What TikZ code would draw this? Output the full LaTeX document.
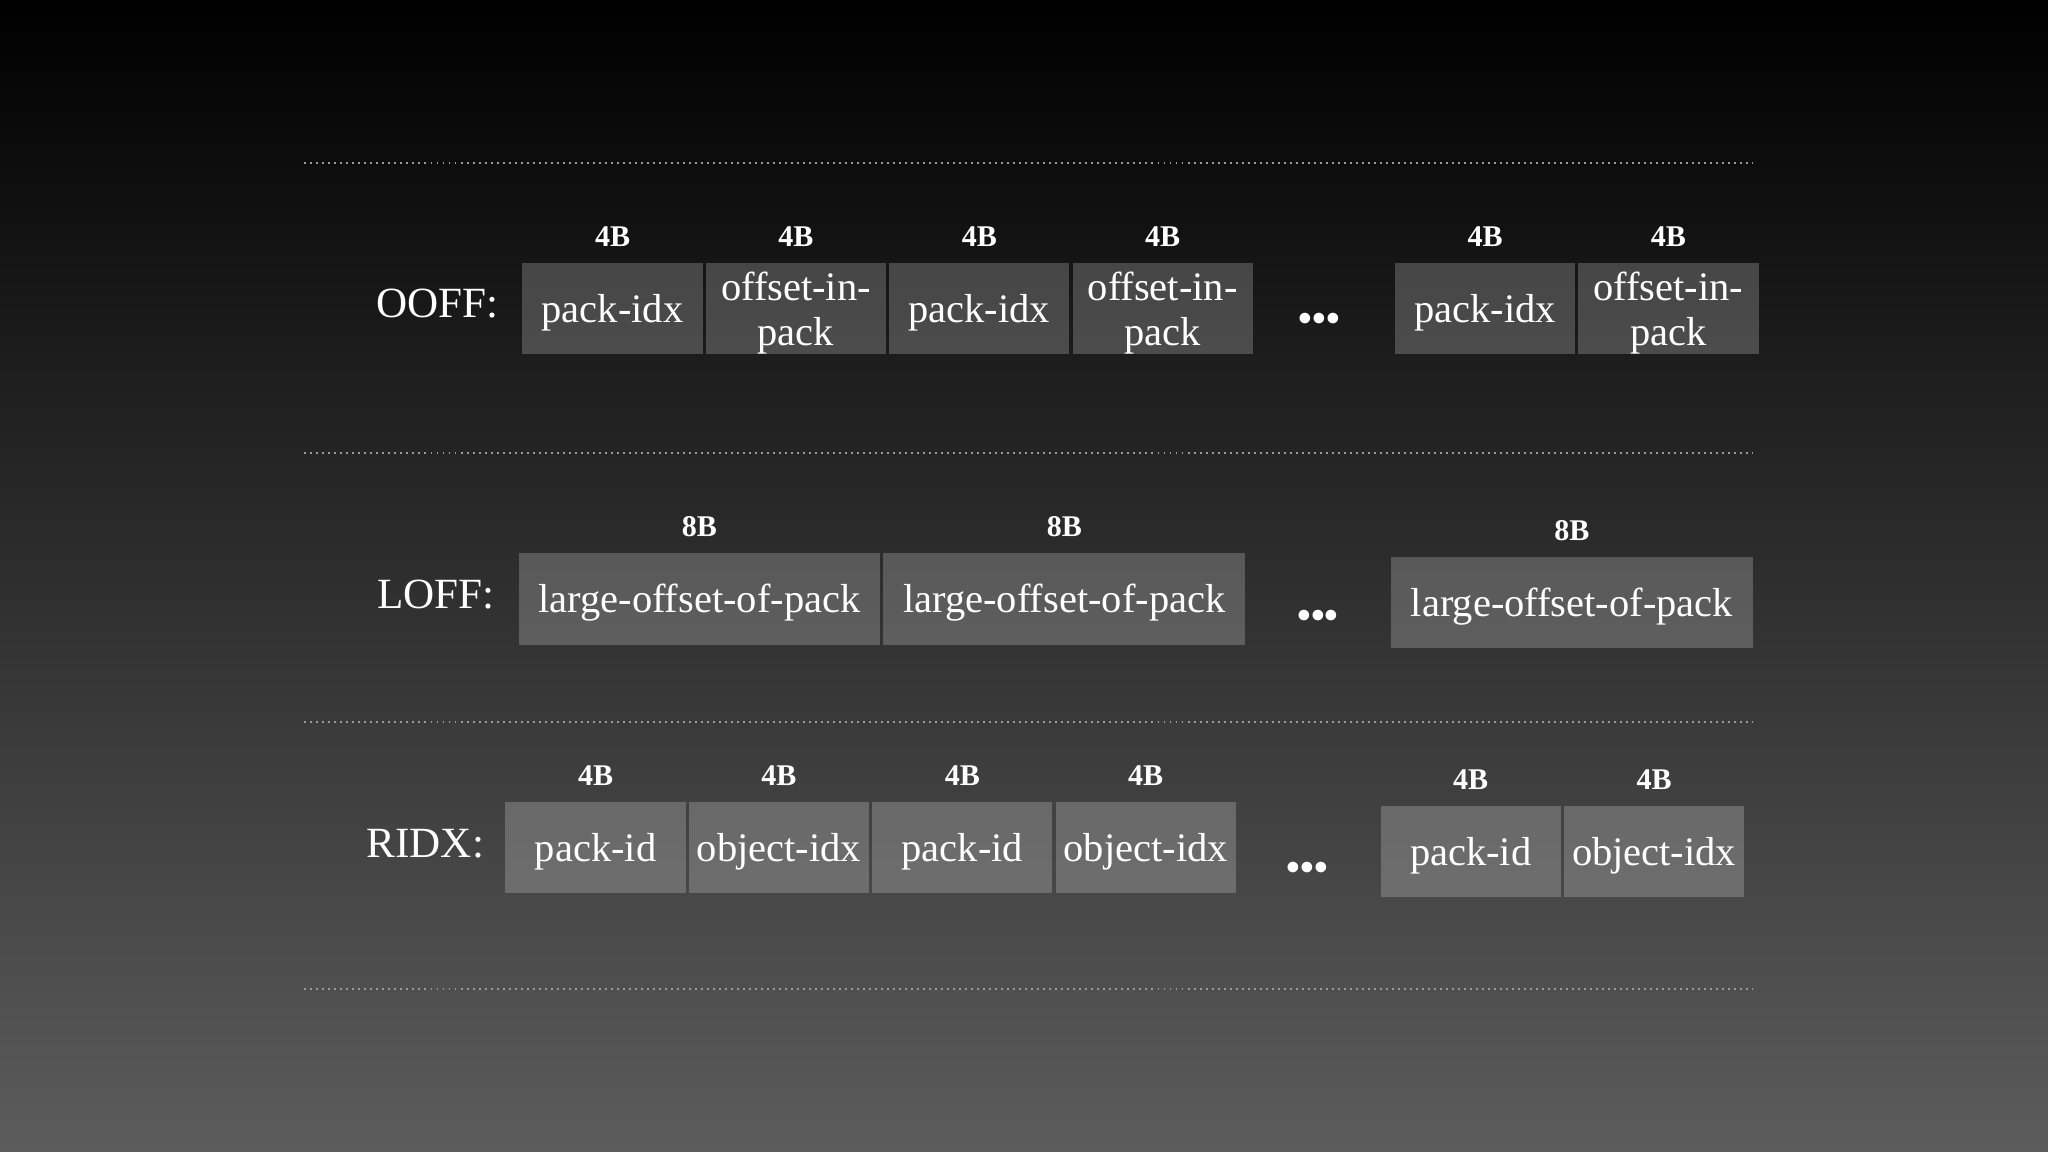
\documentclass[tikz,border=0pt]{standalone}
\usepackage{fontspec}
\setmainfont{Liberation Serif}
\usetikzlibrary{positioning}

\definecolor{bgbottom}{RGB}{92,92,92}
\definecolor{sepgray}{RGB}{155,155,155}

\begin{document}
\begin{tikzpicture}[
    x=1pt, y=1pt,
    cell/.style={fill=white, fill opacity=0.21, text opacity=1, text=white,
      minimum width=138pt, minimum height=70pt, inner sep=0pt, align=center,
      text height=28pt, font=\fontsize{31}{34}\selectfont},
    twocell/.style={cell, text height=63pt},
    widecell/.style={cell, minimum width=277pt},
    sizelbl/.style={text=white, inner sep=0pt, font=\fontsize{23}{26}\selectfont\bfseries},
    rowlbl/.style={text=white, inner sep=0pt, yshift=3.5pt, font=\fontsize{33}{36}\selectfont},
    dots/.style={text=white, inner sep=0pt, font=\fontsize{30}{30}\selectfont\bfseries},
    sep/.style={sepgray, line width=1.5pt, dash pattern=on 1.5pt off 3.1pt}
  ]
  \shade[top color=black, bottom color=bgbottom] (0,0) rectangle (1568,-882);
  \useasboundingbox (0,0) rectangle (1568,-882);

  % separators
  \foreach \y in {125,347,553,757}
    \draw[sep] (233,-\y) -- (1342,-\y);

  % OOFF
  \node[cell] (o1) at (469,-236) {pack-idx};
  \node[twocell, right=2pt of o1] (o2) {offset-in-\\pack};
  \node[cell, right=2pt of o2] (o3) {pack-idx};
  \node[twocell, right=2pt of o3] (o4) {offset-in-\\pack};
  \node[cell] (o5) at (1137,-236) {pack-idx};
  \node[twocell, right=2pt of o5] (o6) {offset-in-\\pack};
  \node[rowlbl, base left=18pt of o1] (ooff) {OOFF:};
  \node[dots] (odots) at (1010,-247) {•••};
  \foreach \b in {o1,o2,o3,o4,o5,o6}
    \node[sizelbl, above=12pt of \b] (\b s) {4B};

  % LOFF
  \node[widecell] (l1) at (535.5,-458.5) {large-offset-of-pack};
  \node[widecell, right=2pt of l1] (l2) {large-offset-of-pack};
  \node[widecell] (l3) at (1203.5,-461.5) {large-offset-of-pack};
  \node[rowlbl, base left=18pt of l1] (loff) {LOFF:};
  \node[dots] (ldots) at (1009,-474) {•••};
  \foreach \b in {l1,l2,l3}
    \node[sizelbl, above=12pt of \b] (\b s) {8B};

  % RIDX
  \node[cell] (r1) at (456,-649) {pack-id};
  \node[cell, right=2pt of r1] (r2) {object-idx};
  \node[cell, right=2pt of r2] (r3) {pack-id};
  \node[cell, right=2pt of r3] (r4) {object-idx};
  \node[cell] (r5) at (1126,-652) {pack-id};
  \node[cell, right=2pt of r5] (r6) {object-idx};
  \node[rowlbl, base left=16pt of r1] (ridx) {RIDX:};
  \node[dots] (rdots) at (1001,-667) {•••};
  \foreach \b in {r1,r2,r3,r4,r5,r6}
    \node[sizelbl, above=12pt of \b] (\b s) {4B};
\end{tikzpicture}
\end{document}
